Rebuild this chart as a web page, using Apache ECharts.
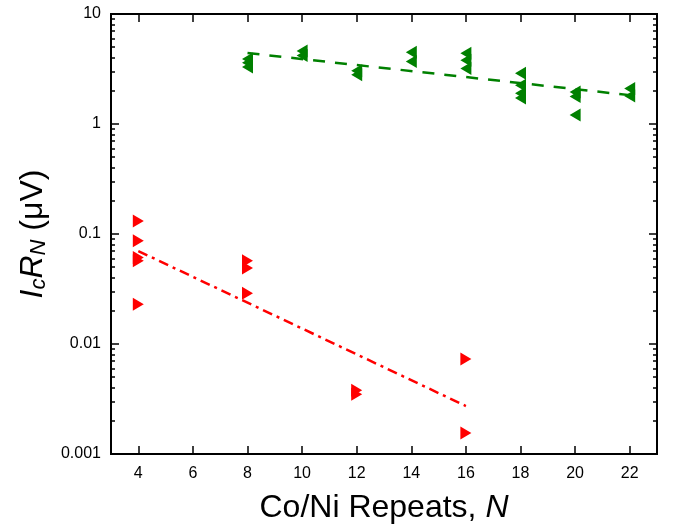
<!DOCTYPE html>
<html>
<head>
<meta charset="utf-8">
<script src="https://cdn.jsdelivr.net/npm/echarts@6/dist/echarts.min.js"></script>
<style>html,body{margin:0;padding:0;background:#fff}#c{width:676px;height:529px}</style>
</head>
<body>
<div id="c"></div>
<script>
// Data
const greenN =   [8, 8, 8, 10, 10, 12, 12, 14, 14, 16, 16, 16, 18, 18, 18, 18, 20, 20, 20, 22, 22];
const greenVal = [3.9, 3.6, 3.3, 4.6, 4.2, 3.05, 2.8, 4.5, 3.7, 4.4, 3.8, 3.2, 2.9, 2.25, 1.9, 1.72, 1.95, 1.78, 1.21, 2.1, 1.8];
const redN =   [4, 4, 4, 4, 4, 8, 8, 8, 12, 12, 16, 16];
const redVal = [0.131, 0.087, 0.061, 0.057, 0.023, 0.057, 0.049, 0.029, 0.0038, 0.0035, 0.0073, 0.00155];
const greenFitN = [8, 22];
const greenFitVal = [4.42, 1.83];
const redFitN = [4, 16];
const redFitVal = [0.070, 0.00273];
const xTicks = [4, 6, 8, 10, 12, 14, 16, 18, 20, 22];
const yMajor = [0.001, 0.01, 0.1, 1, 10];
const yMinor = [];
[0.001, 0.01, 0.1, 1].forEach(d => { for (let k = 2; k <= 9; k++) yMinor.push(+(d * k).toPrecision(3)); });

const font = '"Liberation Sans", Arial, sans-serif';
const chart = echarts.init(document.getElementById('c'), null, {renderer: 'canvas'});

const baseX = {
  type: 'value', min: 3, max: 23, interval: 2,
  splitLine: {show: false},
  axisLine: {show: true, onZero: false, lineStyle: {color: '#000', width: 2}},
  axisTick: {show: true, inside: true, length: 8, lineStyle: {color: '#000', width: 1.5}, customValues: xTicks},
};
const baseY = {
  type: 'log', logBase: 10, min: 0.001, max: 10,
  splitLine: {show: false},
  axisLine: {show: true, onZero: false, lineStyle: {color: '#000', width: 2}},
};

chart.setOption({
  animation: false,
  grid: {left: 111, right: 19, top: 14, bottom: 75, containLabel: false},
  xAxis: [
    Object.assign({}, baseX, {
      position: 'bottom',
      axisLabel: {show: true, customValues: xTicks, color: '#000', fontSize: 16, fontFamily: font, margin: 12},
      name: '{n|Co/Ni Repeats, }{i|N}',
      nameLocation: 'middle', nameGap: 38,
      nameTextStyle: {rich: {
        n: {fontSize: 32, fontFamily: font, color: '#000'},
        i: {fontSize: 32, fontFamily: font, color: '#000', fontStyle: 'italic'}
      }}
    }),
    Object.assign({}, baseX, {position: 'top', axisLabel: {show: false}})
  ],
  yAxis: [
    Object.assign({}, baseY, {
      position: 'left',
      axisTick: {show: true, inside: true, length: 8, lineStyle: {color: '#000', width: 1.5}, customValues: yMajor},
      axisLabel: {show: true, customValues: yMajor, color: '#000', fontSize: 16, fontFamily: font, margin: 10,
        formatter: v => String(v)},
      name: '{i|I}{s|c}{i|R}{si|N}{n| (μV)}',
      nameLocation: 'middle', nameGap: 46, nameRotate: 90,
      nameTextStyle: {rich: {
        i: {fontSize: 32, fontFamily: font, color: '#000', fontStyle: 'italic'},
        s: {fontSize: 22, fontFamily: font, color: '#000', fontStyle: 'italic', padding: [12, 0, 0, 0]},
        si: {fontSize: 22, fontFamily: font, color: '#000', fontStyle: 'italic', padding: [12, 0, 0, 0]},
        n: {fontSize: 32, fontFamily: font, color: '#000'}
      }}
    }),
    Object.assign({}, baseY, {
      position: 'left',
      axisTick: {show: true, inside: true, length: 4, lineStyle: {color: '#000', width: 1.5}, customValues: yMinor},
      axisLabel: {show: false}
    }),
    Object.assign({}, baseY, {
      position: 'right',
      axisTick: {show: true, inside: true, length: 8, lineStyle: {color: '#000', width: 1.5}, customValues: yMajor},
      axisLabel: {show: false}
    }),
    Object.assign({}, baseY, {
      position: 'right',
      axisTick: {show: true, inside: true, length: 4, lineStyle: {color: '#000', width: 1.5}, customValues: yMinor},
      axisLabel: {show: false}
    })
  ],
  series: [
    {
      type: 'line', data: greenFitN.map((n, i) => [n, greenFitVal[i]]),
      showSymbol: false, symbol: 'none', silent: true,
      lineStyle: {color: '#008000', width: 2.5, type: [12, 10]}
    },
    {
      type: 'line', data: redFitN.map((n, i) => [n, redFitVal[i]]),
      showSymbol: false, symbol: 'none', silent: true,
      lineStyle: {color: '#ff0000', width: 2.5, type: [10, 5, 3, 5]}
    },
    {
      type: 'scatter', data: greenN.map((n, i) => [n, greenVal[i]]),
      symbol: 'triangle', symbolRotate: 90, symbolSize: [13, 11],
      itemStyle: {color: '#008000', opacity: 1}
    },
    {
      type: 'scatter', data: redN.map((n, i) => [n, redVal[i]]),
      symbol: 'triangle', symbolRotate: -90, symbolSize: [13, 11],
      itemStyle: {color: '#ff0000', opacity: 1}
    }
  ]
});
</script>
</body>
</html>
